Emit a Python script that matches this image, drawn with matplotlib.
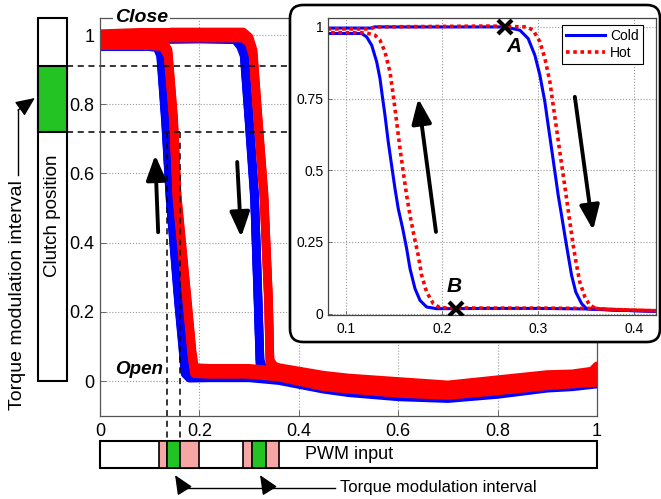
import matplotlib
matplotlib.use("Agg")
import matplotlib.pyplot as plt
import matplotlib.transforms as mtransforms
from matplotlib.patches import Rectangle, FancyBboxPatch

plt.rcParams["font.family"] = ["Liberation Sans", "DejaVu Sans"]

# ── Data: main hysteresis bands (PWM input -> clutch position) ────────────────
blue_inc_x = [0.0, 0.10, 0.20, 0.272, 0.283, 0.290, 0.300, 0.311, 0.318, 0.322,
              0.33, 0.36, 0.45, 0.5, 0.6, 0.7, 0.8, 0.9, 0.95, 1.0]
blue_inc_y = [0.99, 0.995, 0.997, 0.995, 0.975, 0.948, 0.754, 0.532, 0.234, 0.052,
              0.02, 0.015, -0.005, -0.012, -0.03, -0.035, -0.018, -0.005, 0.0, 0.01]
blue_dec_x = [1.0, 0.95, 0.9, 0.8, 0.7, 0.6, 0.5, 0.45, 0.36, 0.30, 0.22, 0.18,
              0.171, 0.168, 0.158, 0.141, 0.132, 0.122, 0.115, 0.10, 0.0]
blue_dec_y = [0.0, -0.008, -0.012, -0.03, -0.042, -0.037, -0.025, -0.015, 0.01, 0.018,
              0.018, 0.017, 0.03, 0.081, 0.234, 0.532, 0.754, 0.948, 0.972, 0.975, 0.975]
red_inc_x = [0.0, 0.10, 0.20, 0.288, 0.300, 0.308, 0.318, 0.330, 0.339, 0.342, 0.35,
             0.36, 0.45, 0.5, 0.6, 0.7, 0.8, 0.9, 0.95, 0.99, 1.0]
red_inc_y = [0.995, 1.0, 1.0, 1.0, 0.985, 0.948, 0.754, 0.532, 0.234, 0.052, 0.035,
             0.03, 0.008, 0.0, -0.01, -0.02, -0.005, 0.01, 0.012, 0.02, 0.035]
red_dec_x = [1.0, 0.95, 0.9, 0.8, 0.7, 0.6, 0.5, 0.45, 0.36, 0.30, 0.22, 0.19,
             0.185, 0.175, 0.155, 0.148, 0.137, 0.126, 0.10, 0.0]
red_dec_y = [0.005, 0.0, -0.005, -0.02, -0.033, -0.027, -0.015, -0.008, 0.02, 0.028,
             0.028, 0.03, 0.081, 0.234, 0.532, 0.754, 0.948, 0.975, 0.978, 0.978]

main_xticks = [0, 0.2, 0.4, 0.6, 0.8, 1]
main_xlabels = ["0", "0.2", "0.4", "0.6", "0.8", "1"]
main_yticks = [0, 0.2, 0.4, 0.6, 0.8, 1]
main_ylabels = ["0", "0.2", "0.4", "0.6", "0.8", "1"]

# torque modulation window on the clutch-position axis
clutch_band = (0.72, 0.91)
# PWM bar segments: (start, end, kind)
pwm_segments = [(0.119, 0.134, "pink"), (0.134, 0.161, "green"), (0.161, 0.199, "pink"),
                (0.287, 0.306, "pink"), (0.306, 0.334, "green"), (0.334, 0.361, "pink")]

# ── Data: inset (cold vs hot) ─────────────────────────────────────────────────
cold_inc_x = [0.0813, 0.126, 0.130, 0.2656, 0.2810, 0.2896, 0.2966, 0.3018, 0.3070,
              0.3104, 0.3139, 0.3174, 0.3208, 0.3243, 0.3277, 0.3312, 0.3347, 0.3391,
              0.3451, 0.3503, 0.3571, 0.38, 0.4225]
cold_inc_y = [0.996, 0.996, 1.0, 1.0, 0.9885, 0.9595, 0.901, 0.8315, 0.738,
              0.657, 0.576, 0.494, 0.413, 0.343, 0.273, 0.203, 0.134, 0.075,
              0.035, 0.017, 0.015, 0.012, 0.008]
cold_dec_x = [0.4225, 0.38, 0.36, 0.30, 0.25, 0.1945, 0.1841, 0.1772, 0.1720, 0.1668,
              0.1633, 0.1592, 0.1546, 0.1512, 0.1477, 0.1442, 0.1408, 0.1384, 0.1356,
              0.1322, 0.1270, 0.1218, 0.1166, 0.0813]
cold_dec_y = [0.008, 0.012, 0.016, 0.018, 0.018, 0.017, 0.023, 0.046, 0.087, 0.157,
              0.227, 0.297, 0.366, 0.436, 0.517, 0.599, 0.692, 0.750, 0.820,
              0.878, 0.936, 0.965, 0.977, 0.977]
hot_inc_x = [0.0813, 0.126, 0.130, 0.25, 0.2880, 0.2948, 0.3018, 0.3070, 0.3122,
             0.3156, 0.3191, 0.3225, 0.3260, 0.3295, 0.3329, 0.3364, 0.3399, 0.3433,
             0.3485, 0.3537, 0.3606, 0.38, 0.4225]
hot_inc_y = [0.993, 0.993, 1.0, 1.003, 1.0, 0.9885, 0.948, 0.890, 0.808,
             0.727, 0.645, 0.564, 0.483, 0.401, 0.320, 0.238, 0.169, 0.110,
             0.058, 0.029, 0.017, 0.014, 0.01]
hot_dec_x = [0.4225, 0.38, 0.36, 0.30, 0.25, 0.1980, 0.1910, 0.1841, 0.1789, 0.1754,
             0.1709, 0.1668, 0.1633, 0.1598, 0.1564, 0.1529, 0.1494, 0.1460, 0.1408,
             0.1356, 0.1304, 0.12, 0.0813]
hot_dec_y = [0.01, 0.014, 0.018, 0.019, 0.019, 0.020, 0.035, 0.075, 0.134, 0.203,
             0.273, 0.343, 0.413, 0.494, 0.576, 0.669, 0.762, 0.843, 0.913,
             0.954, 0.971, 0.98, 0.98]

point_a = (0.2656, 1.0)
point_b = (0.2143, 0.017)

inset_xticks = [0.1, 0.2, 0.3, 0.4]
inset_xlabels = ["0.1", "0.2", "0.3", "0.4"]
inset_yticks = [0, 0.25, 0.5, 0.75, 1]
inset_ylabels = ["0", "0.25", "0.5", "0.75", "1"]

BLUE = "#0000ff"
RED = "#ff0000"
GREEN = "#22c322"
PINK = "#f7a6a6"

fig = plt.figure(figsize=(6.61, 4.99), dpi=100)
fig.patch.set_facecolor("white")

# ── Main axes ────────────────────────────────────────────────────────────────
ax = fig.add_axes([0.1513, 0.1671, 0.7519, 0.7974])
ax.set_xlim(0, 1)
ax.set_ylim(-0.1, 1.05)
ax.set_xticks(main_xticks, main_xlabels)
ax.set_yticks(main_yticks, main_ylabels)
ax.tick_params(direction="in", length=4, width=0.6, color="#555555", labelsize=13)
ax.tick_params(axis="x", pad=5)
ax.tick_params(axis="y", pad=4)
ax.grid(True, linestyle=":", color="#9a9a9a", lw=0.8)
for sp in ax.spines.values():
    sp.set_color("#555555")
    sp.set_linewidth(0.9)

# thick noisy bands: same path drawn with small vertical offsets
def band(x, y, color):
    for dy in (-2.2, 0.0, 2.2):
        tr = mtransforms.offset_copy(ax.transData, fig=fig, x=0, y=dy, units="points")
        ax.plot(x, y, color=color, lw=6.2, transform=tr,
                solid_joinstyle="round", solid_capstyle="round")

band(blue_inc_x, blue_inc_y, BLUE)
band(blue_dec_x, blue_dec_y, BLUE)
band(red_inc_x, red_inc_y, RED)
band(red_dec_x, red_dec_y, RED)

ax.text(0.083, 1.05, "Close", fontsize=14, fontweight="bold", style="italic",
        ha="center", va="center", zorder=5,
        bbox=dict(fc="white", ec="none", pad=1.5))
ax.text(0.0785, 0.032, "Open", fontsize=13.5, fontweight="bold", style="italic",
        ha="center", va="center", zorder=5)

big_arrow = dict(arrowstyle="-|>,head_length=0.75,head_width=0.3", color="k",
                 lw=2.8, shrinkA=0, shrinkB=0, mutation_scale=20)
ax.annotate("", xy=(0.111, 0.653), xytext=(0.117, 0.43), arrowprops=big_arrow)
ax.annotate("", xy=(0.284, 0.416), xytext=(0.276, 0.633), arrowprops=big_arrow)

# clutch position bar (x in axes fraction, y in data)
bx = mtransforms.blended_transform_factory(ax.transAxes, ax.transData)
bar_left, bar_w = -0.1247, 0.0583
ax.add_patch(Rectangle((bar_left, 0), bar_w, 1.05, transform=bx, fc="white",
                       ec="k", lw=1.5, clip_on=False))
ax.add_patch(Rectangle((bar_left, clutch_band[0]), bar_w, clutch_band[1] - clutch_band[0],
                       transform=bx, fc=GREEN, ec="k", lw=1.5, clip_on=False))
ax.text(bar_left + bar_w / 2, 0.477, "Clutch position", transform=bx, rotation=90,
        fontsize=13.5, ha="center", va="center")
for yv in clutch_band:
    ax.plot([bar_left + bar_w, 0.45], [yv, yv], transform=bx, color="k",
            ls=(0, (4, 3)), lw=1.1, clip_on=False)

ax.text(-0.167, 0.249, "Torque modulation interval", transform=bx, rotation=90,
        fontsize=14, ha="center", va="center")
small_arrow = dict(arrowstyle="-|>,head_length=0.9,head_width=0.4", color="k",
                   lw=1, shrinkA=0, shrinkB=0, mutation_scale=13)
ax.plot([-0.165, -0.165], [0.595, 0.783], transform=bx, color="k", lw=1, clip_on=False)
ax.annotate("", xy=(-0.131, 0.818), xycoords=bx, xytext=(-0.165, 0.783),
            textcoords=bx, arrowprops=small_arrow, annotation_clip=False)

# PWM input bar below the x axis
pwm_y0, pwm_h = -0.2514, 0.0789
ax.add_patch(Rectangle((0, pwm_y0), 1.0, pwm_h, fc="white", ec="k", lw=1.5,
                       clip_on=False))
for x0, x1, kind in pwm_segments:
    ax.add_patch(Rectangle((x0, pwm_y0), x1 - x0, pwm_h,
                           fc=GREEN if kind == "green" else PINK,
                           ec="k", lw=1.2, clip_on=False))
ax.text(0.412, pwm_y0 + pwm_h / 2, "PWM input", fontsize=13, ha="left", va="center")

for xv in (pwm_segments[1][0], pwm_segments[1][1]):
    ax.plot([xv, xv], [clutch_band[0], pwm_y0 + pwm_h], color="k",
            ls=(0, (4, 3)), lw=1.1, clip_on=False)

ax.plot([0.167, 0.473], [-0.309, -0.309], color="k", lw=1, clip_on=False)
ax.annotate("", xy=(0.151, -0.272), xytext=(0.167, -0.309), arrowprops=small_arrow,
            annotation_clip=False)
ax.annotate("", xy=(0.322, -0.272), xytext=(0.338, -0.309), arrowprops=small_arrow,
            annotation_clip=False)
ax.text(0.483, -0.309, "Torque modulation interval", fontsize=12, ha="left",
        va="center")

# ── Inset frame ──────────────────────────────────────────────────────────────
box = FancyBboxPatch((0.4387, 0.3146), 0.5598, 0.6754, transform=fig.transFigure,
                     boxstyle="round,pad=0,rounding_size=0.02",
                     mutation_aspect=6.61 / 4.99, fc="white", ec="k", lw=1.9,
                     zorder=1)
fig.patches.append(box)

ins = fig.add_axes([0.4958, 0.3687, 0.4967, 0.5946], zorder=2)
ins.set_xlim(0.0813, 0.4225)
ins.set_ylim(-0.005, 1.03)
ins.set_xticks(inset_xticks, inset_xlabels)
ins.set_yticks(inset_yticks, inset_ylabels)
ins.tick_params(direction="in", length=3, width=0.6, color="#555555", labelsize=10)
ins.tick_params(axis="x", pad=5)
ins.tick_params(axis="y", pad=3)
ins.grid(True, linestyle=":", color="#9a9a9a", lw=0.8)
for sp in ins.spines.values():
    sp.set_color("#444444")
    sp.set_linewidth(0.9)

ins.plot(cold_inc_x, cold_inc_y, color=BLUE, lw=2.2, label="Cold")
ins.plot(cold_dec_x, cold_dec_y, color=BLUE, lw=2.2)
ins.plot(hot_inc_x, hot_inc_y, color=RED, lw=2.6, ls=(0, (1, 1)), label="Hot")
ins.plot(hot_dec_x, hot_dec_y, color=RED, lw=2.6, ls=(0, (1, 1)))

ins.plot(*point_a, marker="x", color="k", ms=10, mew=3, zorder=5)
ins.plot(*point_b, marker="x", color="k", ms=10, mew=3, zorder=5)
ins.text(0.275, 0.933, "A", fontsize=15, fontweight="bold", style="italic",
         ha="center", va="center")
ins.text(0.2126, 0.095, "B", fontsize=15, fontweight="bold", style="italic",
         ha="center", va="center")

ins.annotate("", xy=(0.1754, 0.750), xytext=(0.1938, 0.285), arrowprops=big_arrow)
ins.annotate("", xy=(0.3571, 0.291), xytext=(0.3381, 0.756), arrowprops=big_arrow)

leg = ins.legend(loc="upper right", bbox_to_anchor=(0.96, 0.977), fontsize=10,
                 fancybox=False, framealpha=1, edgecolor="k", borderaxespad=0,
                 handlelength=2.8, handletextpad=0.4, borderpad=0.3,
                 labelspacing=0.2)
leg.get_frame().set_linewidth(0.8)

fig.savefig("out.png", dpi=100, facecolor="white")
